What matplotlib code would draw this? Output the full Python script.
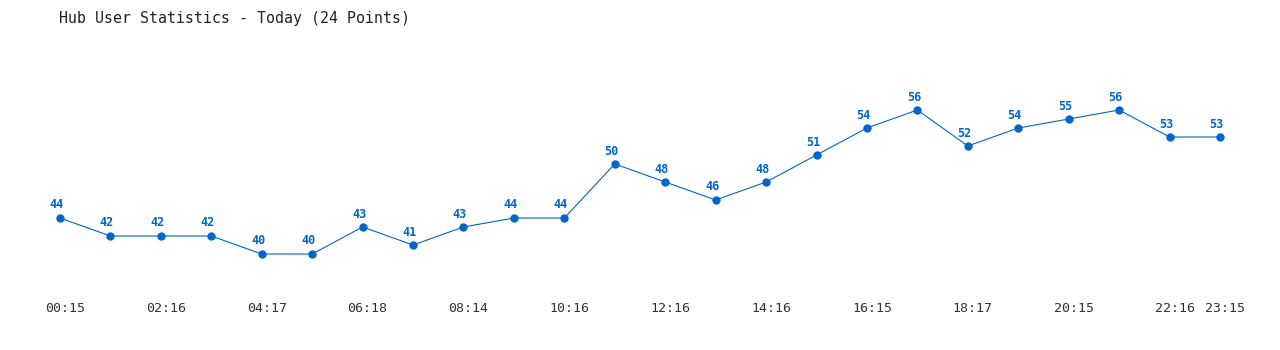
import matplotlib
matplotlib.use("Agg")
import matplotlib.pyplot as plt
from matplotlib.transforms import ScaledTranslation

title = "Hub User Statistics - Today (24 Points)"
values = [44, 42, 42, 42, 40, 40, 43, 41, 43, 44, 44, 50,
          48, 46, 48, 51, 54, 56, 52, 54, 55, 56, 53, 53]
tick_positions = [0, 2, 4, 6, 8, 10, 12, 14, 16, 18, 20, 22, 23]
tick_labels = ["00:15", "02:16", "04:17", "06:18", "08:14", "10:16", "12:16",
               "14:16", "16:15", "18:17", "20:15", "22:16", "23:15"]

W, H = 1280, 350
fig = plt.figure(figsize=(W / 100, H / 100), dpi=100)
fig.patch.set_facecolor("white")
ax = fig.add_axes([60 / W, 65 / H, 1160 / W, 285 / H])
ax.set_xlim(0, len(values) - 1)
ax.set_ylim(44 - (132 - 65) / 9, 44 + 218 / 9)

x = list(range(len(values)))
blue = "#0066cc"
ax.plot(x, values, color=blue, lw=0.8, marker="o", ms=5, mec=blue, mfc=blue,
        clip_on=False)
for xi, v in zip(x, values):
    ax.annotate(str(v), (xi, v), xytext=(-3.5, 13), textcoords="offset pixels",
                ha="center", va="center", fontsize=8.5, fontweight="bold",
                color=blue, family="DejaVu Sans Mono")

for s in ax.spines.values():
    s.set_visible(False)
ax.set_yticks([])
ax.set_xticks(tick_positions)
ax.set_xticklabels(tick_labels, family="DejaVu Sans Mono", fontsize=9.5,
                   color="#333333")
ax.tick_params(axis="x", length=0, pad=12)
off = ScaledTranslation(5 / 100, 0, fig.dpi_scale_trans)
for lab in ax.get_xticklabels():
    lab.set_transform(lab.get_transform() + off)

fig.text(59 / W, 1 - 18 / H, title, ha="left", va="center",
         family="DejaVu Sans Mono", fontsize=10.7, color="#222222")

fig.savefig("out.png", dpi=100)
